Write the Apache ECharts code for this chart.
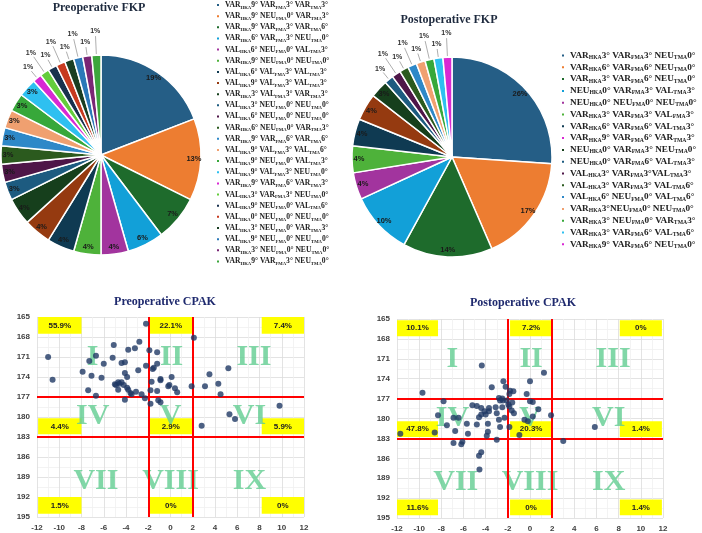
<!DOCTYPE html>
<html>
<head>
<meta charset="utf-8">
<script src="https://cdn.jsdelivr.net/npm/echarts@6.0.0/dist/echarts.min.js"></script>
<style>
  html, body { margin: 0; padding: 0; background: #fff; }
  #chart { width: 702px; height: 533px; }
</style>
</head>
<body>
<div id="chart"></div>
<script>
// slice colours, shared by both FKP pies
const sliceColors = [
  '#255e86', '#ed7d31', '#1e6b2c', '#12a0d8', '#a2349e', '#4eb23a',
  '#0f3a52', '#953a10', '#163f1c', '#1d5b80', '#4e1648', '#2b5a1e',
  '#2e88c8', '#f0a070', '#37a83a', '#2ec0f0', '#d829d3', '#64cc3c',
  '#18314e', '#c73a1f', '#1a3e22', '#2b78b8', '#7a2675', '#3ca63c'
]

const preFkpNames = [
  'VAR_HKA9° VAR_FMA3° VAR_TMA3°',
  'VAR_HKA9° NEU_FMA0° VAR_TMA3°',
  'VAR_HKA9° VAR_FMA3° VAR_TMA6°',
  'VAR_HKA6° VAR_FMA3° NEU_TMA0°',
  'VAL_HKA6° NEU_FMA0° VAL_TMA3°',
  'VAR_HKA9° NEU_FMA0° NEU_TMA0°',
  'VAL_HKA6° VAL_FMA3° VAL_TMA3°',
  'VAL_HKA9° VAL_FMA3° VAL_TMA3°',
  'VAR_HKA3° VAL_FMA3° VAR_TMA3°',
  'VAL_HKA3° NEU_FMA0° NEU_TMA0°',
  'VAL_HKA6° NEU_FMA0° NEU_TMA0°',
  'VAR_HKA6° NEU_FMA0° VAR_TMA3°',
  'VAR_HKA9° VAR_FMA6° VAR_TMA6°',
  'VAL_HKA9° VAL_FMA3° VAL_TMA6°',
  'VAL_HKA9° NEU_FMA0° VAL_TMA3°',
  'VAL_HKA9° VAL_FMA3° NEU_TMA0°',
  'VAR_HKA9° VAR_FMA6° VAR_TMA3°',
  'VAL_HKA3° VAR_FMA3° NEU_TMA0°',
  'VAL_HKA9° NEU_FMA0° VAL_TMA6°',
  'VAL_HKA0° NEU_FMA0° NEU_TMA0°',
  'VAL_HKA3° NEU_FMA0° VAR_TMA3°',
  'VAL_HKA9° NEU_FMA0° NEU_TMA0°',
  'VAR_HKA3° NEU_FMA0° NEU_TMA0°',
  'VAR_HKA9° VAR_FMA3° NEU_TMA0°'
]
const preFkpCounts = [13, 9, 5, 4, 3, 3, 3, 3, 3, 2, 2, 2, 2, 2, 2, 2, 1, 1, 1, 1, 1, 1, 1, 1]

const postFkpNames = [
  'VAR_HKA3° VAR_FMA3° NEU_TMA0°',
  'VAR_HKA6° VAR_FMA6° NEU_TMA0°',
  'VAR_HKA3° VAR_FMA6° NEU_TMA0°',
  'NEU_HKA0° VAR_FMA3° VAL_TMA3°',
  'NEU_HKA0° NEU_FMA0° NEU_TMA0°',
  'VAR_HKA3° VAR_FMA3° VAL_FMA3°',
  'VAR_HKA6° VAR_FMA6° VAL_TMA3°',
  'VAR_HKA9° VAR_FMA6° VAR_TMA3°',
  'NEU_HKA0° VAR_FMA3° NEU_TMA0°',
  'NEU_HKA0° VAR_FMA6° VAL_TMA3°',
  'VAL_HKA3° VAR_FMA3°VAL_TMA3°',
  'VAL_HKA3° VAR_FMA3° VAL_TMA6°',
  'VAL_HKA6° NEU_FMA0° VAL_TMA6°',
  'VAR_HKA3°NEU_FMA0° NEU_TMA0°',
  'VAR_HKA3° NEU_FMA0° VAR_TMA3°',
  'VAR_HKA3° VAR_FMA6° VAL_TMA6°',
  'VAR_HKA9° VAR_FMA6° NEU_TMA0°'
]
const postFkpCounts = [18, 12, 10, 7, 3, 3, 3, 3, 2, 1, 1, 1, 1, 1, 1, 1, 1]

// CPAK scatter: [aHKA, JLO]
const preCpakPoints = [
  [-11.0, 171.0], [-10.6, 174.4], [-7.9, 173.2], [-7.3, 171.6], [-6.7, 170.8],
  [-7.1, 173.8], [-7.4, 176.0], [-6.7, 176.8], [-6.0, 172.0], [-6.2, 174.1],
  [-5.2, 171.1], [-5.1, 169.2], [-5.0, 175.1], [-4.7, 175.9], [-4.7, 174.8],
  [-4.4, 171.9], [-4.1, 171.8], [-4.1, 173.4], [-3.9, 174.0], [-3.9, 175.6],
  [-3.8, 175.9], [-4.4, 174.8], [-3.8, 169.9], [-3.5, 176.6], [-3.1, 176.2],
  [-3.2, 169.7], [-2.9, 173.0], [-2.8, 168.7], [-2.6, 176.6], [-2.2, 172.3],
  [-2.2, 166.0], [-4.9, 175.2], [-4.6, 175.0], [-3.6, 176.4], [-4.2, 175.2],
  [-4.1, 177.4], [-2.3, 177.2],
  [-1.9, 170.0], [-1.8, 176.0], [-1.8, 178.0], [-1.7, 174.7], [-1.6, 172.8],
  [-1.5, 172.6], [-1.2, 172.0], [-1.2, 170.3], [-1.2, 176.1], [-1.1, 177.5],
  [-0.9, 177.8], [-0.9, 174.5], [-0.9, 174.3], [-0.1, 175.2], [0.1, 174.0],
  [-0.2, 175.4], [0.4, 175.7], [0.6, 176.3], [1.9, 175.4], [2.1, 168.1],
  [3.1, 175.4], [3.5, 173.6], [4.3, 175.0], [4.5, 176.6], [5.2, 172.7],
  [5.3, 179.6], [5.8, 180.3], [9.8, 178.3], [2.8, 181.3]
]
const postCpakPoints = [
  [-4.35, 172.0], [-9.7, 176.1], [-3.45, 175.3], [-2.4, 174.4], [-2.2, 175.2],
  [-2.8, 176.9], [-2.5, 177.0],
  [1.26, 173.1], [0.0, 174.4], [-1.8, 175.8], [-1.5, 175.9], [-1.86, 176.3], [-0.3, 176.3],
  [-7.8, 177.4], [-2.7, 177.3], [-2.45, 177.3], [-2.1, 177.3], [-4.8, 178.1],
  [-4.4, 178.4], [-3.7, 178.4], [-3.1, 178.3], [-2.5, 178.3], [-3.7, 178.9],
  [-3.0, 179.2], [-4.4, 179.4], [-4.0, 179.4], [-4.6, 179.8], [-8.3, 179.5],
  [-6.9, 179.9], [-6.45, 179.9], [-7.5, 181.0], [-5.7, 180.8], [-4.8, 180.9],
  [-3.8, 180.8], [-2.8, 180.2], [-2.3, 179.9], [-2.7, 181.3], [-6.75, 181.9],
  [-5.6, 182.3], [-3.8, 182.0], [-3.9, 182.6], [-11.7, 182.3], [-8.6, 182.1],
  [-5.2, 178.0], [-4.1, 178.9],
  [-1.95, 177.9], [-1.86, 178.2], [-1.65, 178.8], [-1.45, 179.2], [0.75, 178.6],
  [0.25, 179.7], [0.25, 177.5], [0.0, 177.4], [-0.5, 180.2], [-0.2, 180.4],
  [-0.96, 182.5], [-1.86, 181.3], [1.9, 179.5], [-1.6, 177.6],
  [5.85, 181.3],
  [-6.9, 183.7], [-6.2, 183.9], [-6.1, 183.5], [-4.6, 185.6], [-4.4, 185.1],
  [-4.56, 187.7], [-3.0, 183.2],
  [3.0, 183.4]
]

const cpakZones = ['I', 'II', 'III', 'IV', 'V', 'VI', 'VII', 'VIII', 'IX']
const preZonePct = ['55.9%', '22.1%', '7.4%', '4.4%', '2.9%', '5.9%', '1.5%', '0%', '0%']
const postZonePct = ['10.1%', '7.2%', '0%', '47.8%', '20.3%', '1.4%', '11.6%', '0%', '1.4%']
const boundaryX = [-2, 2]
const boundaryY = [177, 183]

// layout (data coords) of the numerals and the yellow boxes
const zoneSpots = [[-7, 171], [0.1, 171], [7.5, 171], [-7, 179.9], [0, 179.9], [7.1, 179.9], [-6.7, 189.6], [0, 189.6], [7.1, 189.6]]
const preBoxCols = [[-11.9, -8], [-1.95, 2], [8.2, 12]]
const preBoxRows = [[165, 167.5], [180.2, 182.6], [192, 194.5]]
const postBoxCols = [[-12, -8.3], [-1.8, 2], [8.1, 11.9]]
const postBoxRows = [[165.2, 167.6], [180.4, 182.8], [192.2, 194.6]]

const serif = 'Liberation Serif'
const PIE_R = 100
const pctFmt = p => Math.round(p.percent) + '%'
const subFmt = name => '{b|' + name.replace(/_([A-Z]+)/g, '}{s|$1}{b|') + '}'

const pieSeries = (names, counts, center) => {
  const total = counts.reduce((a, b) => a + b, 0)
  const small = counts.map(c => c / total < 0.02)
  // mid angle of each slice, clockwise from 12 o'clock
  let acc = 0
  const midAngle = counts.map(c => {
    const a = (acc + c / 2) / total * 2 * Math.PI
    acc += c
    return a
  })
  let k = 0
  const stagger = counts.map((c, i) => small[i] ? (k++ % 2 ? 19 : 9) : 0)
  return [
    {
      type: 'pie',
      center: center,
      radius: [0, PIE_R],
      startAngle: 90,
      emphasis: {disabled: true},
      itemStyle: {borderColor: '#fff', borderWidth: 1.5},
      label: {position: 'outside', formatter: pctFmt, fontSize: 7, fontWeight: 'bold', color: '#333', overflow: 'none'},
      labelLine: {length: 6, length2: 4, lineStyle: {color: '#999', width: 0.8}},
      labelLayout: p => {
        const i = p.dataIndex
        if (!small[i]) return {}
        const a = midAngle[i], s = Math.sin(a), c = Math.cos(a)
        const r1 = PIE_R + 1, r2 = PIE_R + stagger[i]
        const lx = center[0] + (r2 + 5) * s, ly = center[1] - (r2 + 5) * c
        return {
          x: lx, y: ly, align: 'center', verticalAlign: 'middle',
          labelLinePoints: [
            [center[0] + r1 * s, center[1] - r1 * c],
            [center[0] + r2 * s, center[1] - r2 * c],
            [center[0] + r2 * s, center[1] - r2 * c]
          ]
        }
      },
      data: names.map((n, i) => ({
        name: n,
        value: counts[i],
        itemStyle: {color: sliceColors[i]},
        label: {show: small[i]},
        labelLine: {show: small[i]}
      }))
    },
    {
      type: 'pie',
      center: center,
      radius: [80, PIE_R],
      startAngle: 90,
      silent: true,
      itemStyle: {color: 'rgba(0,0,0,0)', borderWidth: 0},
      label: {position: 'inside', formatter: pctFmt, fontSize: 7.5, fontWeight: 'bold', color: '#1a1a1a'},
      labelLine: {show: false},
      data: counts.map((c, i) => ({name: 'lbl' + i, value: c, label: {show: !small[i]}}))
    }
  ]
}

const legendFor = (names, left, top, size, gap) => ({
  orient: 'vertical',
  left: left,
  top: top,
  padding: 0,
  itemGap: gap,
  itemWidth: 4,
  itemHeight: 4,
  icon: 'rect',
  selectedMode: false,
  data: names,
  formatter: subFmt,
  textStyle: {
    rich: {
      b: {fontFamily: serif, fontWeight: 'bold', fontSize: size, lineHeight: 10, color: '#222'},
      s: {fontFamily: serif, fontWeight: 'bold', fontSize: size * 0.62, lineHeight: 6, verticalAlign: 'bottom', color: '#222'}
    }
  }
})

const cpakSeries = (idx, points, pcts, cols, rows) => {
  const boxes = pcts.map((p, i) => {
    const c = cols[i % 3], r = rows[Math.floor(i / 3)]
    return [{coord: [c[0], r[0]], name: p}, {coord: [c[1], r[1]]}]
  })
  return [
    {
      type: 'scatter',
      xAxisIndex: idx, yAxisIndex: idx,
      data: [],
      markArea: {
        silent: true,
        itemStyle: {color: '#ffff00'},
        label: {show: true, position: 'inside', fontSize: 8, fontWeight: 'bold', color: '#222', fontFamily: 'Liberation Sans'},
        data: boxes
      }
    },
    {
      type: 'scatter',
      xAxisIndex: idx, yAxisIndex: idx,
      silent: true,
      z: 2,
      symbolSize: 0,
      label: {
        show: true, position: 'inside',
        formatter: p => p.name,
        fontFamily: serif, fontWeight: 'bold', fontSize: 30, color: '#62cd91'
      },
      data: cpakZones.map((z, i) => ({name: z, value: zoneSpots[i]}))
    },
    {
      type: 'scatter',
      xAxisIndex: idx, yAxisIndex: idx,
      data: [],
      markLine: {
        silent: true,
        z: 3,
        symbol: 'none',
        label: {show: false},
        lineStyle: {color: '#ff0000', width: 2, type: 'solid'},
        data: boundaryX.map(v => ({xAxis: v})).concat(boundaryY.map(v => ({yAxis: v})))
      }
    },
    {
      type: 'scatter',
      xAxisIndex: idx, yAxisIndex: idx,
      z: 4,
      symbolSize: 6,
      itemStyle: {color: '#1f3864'},
      data: points
    }
  ]
}

const axisText = {fontFamily: 'Liberation Sans', fontWeight: 'bold', fontSize: 8, color: '#404040'}

const xAxisFor = idx => ({
  type: 'value', gridIndex: idx, min: -12, max: 12, interval: 2,
  axisLine: {show: false}, axisTick: {show: false},
  axisLabel: Object.assign({margin: 7}, axisText),
  splitLine: {lineStyle: {color: '#dcdcdc', width: 0.8}},
  minorTick: {show: false, splitNumber: 2},
  minorSplitLine: {show: true, lineStyle: {color: '#f0f0f0', width: 0.8}}
})
const yAxisFor = idx => ({
  type: 'value', gridIndex: idx, min: 165, max: 195, interval: 3, inverse: true,
  axisLine: {show: false}, axisTick: {show: false},
  axisLabel: Object.assign({margin: 7}, axisText),
  splitLine: {lineStyle: {color: '#dcdcdc', width: 0.8}},
  minorTick: {show: false, splitNumber: 2},
  minorSplitLine: {show: true, lineStyle: {color: '#f0f0f0', width: 0.8}}
})

const titleFor = (text, x, y, color) => ({
  text: text, left: x, top: y, textAlign: 'center', padding: 0,
  textStyle: {fontFamily: serif, fontWeight: 'bold', fontSize: 12, color: color}
})

const myChart = echarts.init(document.getElementById('chart'), null, {renderer: 'canvas'})

myChart.setOption({
  animation: false,
  backgroundColor: '#fff',
  title: [
    titleFor('Preoperative FKP', 99, 2, '#1e2a3e'),
    titleFor('Postoperative FKP', 449, 14, '#1e2a3e'),
    titleFor('Preoperative CPAK', 165, 296, '#1f2a6e'),
    titleFor('Postoperative CPAK', 523, 297, '#1f2a6e')
  ],
  legend: [
    legendFor(preFkpNames, 215, 1, 7.6, 2.15),
    legendFor(postFkpNames, 560, 51, 9.2, 2.3)
  ],
  grid: [
    {left: 37, top: 317, width: 267, height: 200},
    {left: 397, top: 319, width: 266, height: 199}
  ],
  xAxis: [xAxisFor(0), xAxisFor(1)],
  yAxis: [yAxisFor(0), yAxisFor(1)],
  series: [
    ...pieSeries(preFkpNames, preFkpCounts, [101, 155]),
    ...pieSeries(postFkpNames, postFkpCounts, [452, 157]),
    ...cpakSeries(0, preCpakPoints, preZonePct, preBoxCols, preBoxRows),
    ...cpakSeries(1, postCpakPoints, postZonePct, postBoxCols, postBoxRows)
  ]
})

window.addEventListener('resize', () => {
  if (myChart) myChart.resize()
})
</script>
</body>
</html>
